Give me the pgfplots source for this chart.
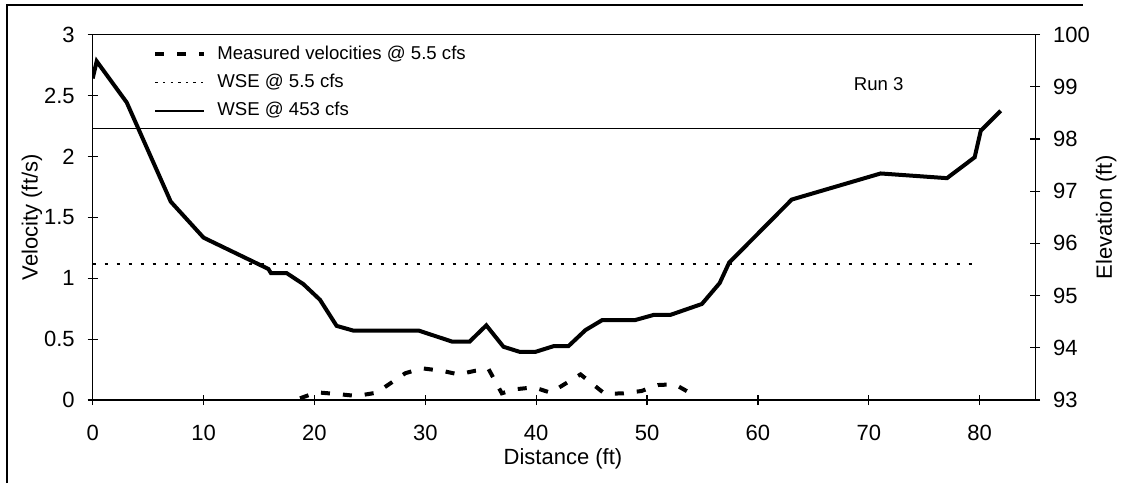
\documentclass[border=0pt]{standalone}
\usepackage{pgfplots}
\pgfplotsset{compat=1.18}
\usepackage{fontspec}
\setmainfont{Liberation Sans}

% ground profile (elevation, right axis)
\pgfplotstableread{
x y
0     99.16
0.36  99.49
3.07  98.70
7.04  96.80
10.0  96.11
15.85 95.51
16.08 95.43
17.5  95.43
19.0  95.22
20.5  94.92
22.0  94.42
23.5  94.33
29.4  94.33
32.4  94.12
34.0  94.12
35.5  94.43
37.05 94.02
38.55 93.92
39.9  93.92
41.55 94.03
42.9  94.03
44.45 94.34
45.95 94.53
48.9  94.53
50.6  94.63
52.1  94.63
54.95 94.84
56.55 95.24
57.4  95.63
63.05 96.84
71.07 97.34
77.05 97.25
79.55 97.65
80.1  98.16
81.9  98.54
}\ground

% measured velocities @ 5.5 cfs (left axis)
\pgfplotstableread{
x v
18.7  0.014
20.2  0.063
22.3  0.047
23.8  0.033
25.6  0.060
28.2  0.220
29.7  0.260
31.5  0.240
33.0  0.210
34.5  0.240
35.7  0.255
36.9  0.055
38.1  0.088
39.8  0.104
41.3  0.060
44.0  0.210
46.2  0.050
47.9  0.055
49.5  0.074
51.0  0.123
52.5  0.129
54.6  0.020
}\veloc

\begin{document}
\begin{tikzpicture}
\useasboundingbox (-46.35pt,-41.5pt) rectangle (519.65pt,200pt);
\draw[line width=0.7pt] (-42.85pt,-41.5pt) -- (-42.85pt,197.5pt) -- (495pt,197.5pt);
\pgfplotsset{
  every axis/.append style={
    scale only axis, width=471.2pt, height=182.7pt,
    xmin=0, xmax=85,
    font=\fontsize{11}{13}\selectfont,
    /pgf/number format/assume math mode=true,
    tick align=center, major tick length=5pt,
    axis line style={line width=0.6pt},
    tick style={line width=0.6pt, black},
  },
}
\begin{axis}[
    ymin=0, ymax=3,
    xtick={0,10,...,80},
    ytick={0,0.5,...,3},
    xtick pos=bottom, ytick pos=left,
    yticklabel style={/pgf/number format/fixed, xshift=-3pt},
    xticklabel style={yshift=-6.5pt},
    xlabel={Distance (ft)},
    ylabel={Velocity (ft/s)},
    xlabel style={at={(axis description cs:0.499,-0.16)}, anchor=center},
    ylabel style={at={(axis description cs:-0.0644,0.5)}, anchor=center},
    legend cell align=left,
    legend image code/.code={\draw[#1] (0pt,0pt) -- (24.5pt,0pt);},
    legend style={at={(axis description cs:0.064,0.978)}, anchor=north west,
      draw=none, fill=none, inner sep=0pt, row sep=3.2pt,
      font=\fontsize{9.3}{11}\selectfont,
      nodes={inner sep=1pt, text height=7pt, text depth=2pt},
      /tikz/every odd column/.append style={column sep=4.5pt}},
]
\addplot[black, line width=2pt, dash pattern=on 4.5pt off 6.5pt] table[x=x, y=v] {\veloc};
\addlegendentry{Measured velocities @ 5.5 cfs}
\addlegendimage{black, line width=0.8pt, dash pattern=on 1.2pt off 2.6pt}
\addlegendentry{WSE @ 5.5 cfs}
\addlegendimage{black, line width=0.9pt}
\addlegendentry{WSE @ 453 cfs}
\node[font=\fontsize{9.3}{11}\selectfont] at (axis cs:70.9,2.59) {Run 3};
\end{axis}
\begin{axis}[
    ymin=93, ymax=100,
    ytick={93,94,...,100},
    axis x line=none,
    axis y line*=right,
    ytick pos=right,
    yticklabel style={xshift=3pt},
    ylabel={Elevation (ft)},
    ylabel style={at={(axis description cs:1.0754,0.5)}, anchor=center, rotate=0},
]
\addplot[black, line width=0.8pt, dash pattern=on 1.6pt off 4.4pt] coordinates {(0,95.61) (79.6,95.61)};
\addplot[black, line width=0.9pt] coordinates {(0,98.2) (80.1,98.2)};
\addplot[black, line width=2pt] table[x=x, y=y] {\ground};
\end{axis}
\end{tikzpicture}
\end{document}
